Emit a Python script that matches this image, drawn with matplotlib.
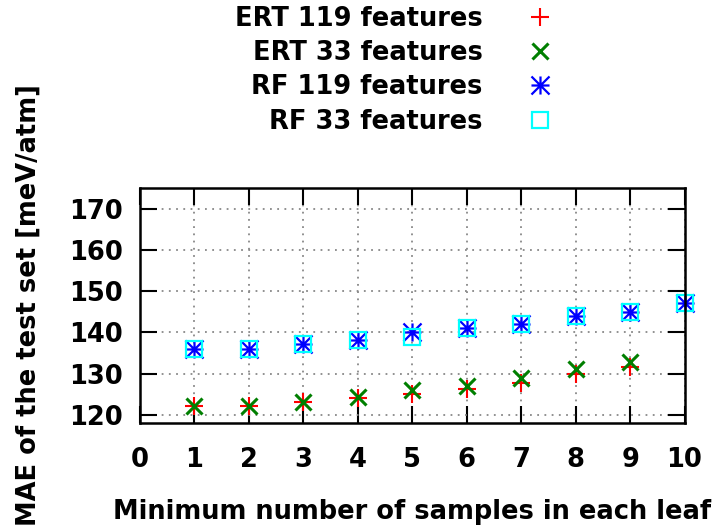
import numpy as np
import matplotlib
matplotlib.use('Agg')
import matplotlib.pyplot as plt
from matplotlib.path import Path

# minimum samples per leaf
leaf_ert = [1, 2, 3, 4, 5, 6, 7, 8, 9]
leaf_rf = [1, 2, 3, 4, 5, 6, 7, 8, 9, 10]

# MAE of the test set [meV/atm]
ert_119 = [122, 122, 123, 124, 125, 126.2, 127.8, 130, 131.5]
ert_33 = [122, 122, 123, 124.3, 126, 126.9, 128.9, 131.1, 132.9]
rf_119 = [136, 136, 137.1, 138.2, 140.1, 141, 142, 144, 145, 147]
rf_33 = [136, 136, 137.1, 138.2, 138.9, 141.1, 142, 144, 145, 147]

labels = ['ERT 119 features', 'ERT 33 features', 'RF 119 features', 'RF 33 features']
xticks = list(range(0, 11))
yticks = [120, 130, 140, 150, 160, 170]

# gnuplot style star: a plus and a cross together
star = Path([(-1, 0), (1, 0), (0, -1), (0, 1), (-1, -1), (1, 1), (-1, 1), (1, -1)],
            [Path.MOVETO, Path.LINETO] * 4)

FS = 18.5
plt.rcParams['font.family'] = 'DejaVu Sans'
plt.rcParams['font.weight'] = 'bold'
plt.rcParams['axes.labelweight'] = 'bold'
fig = plt.figure(figsize=(7.12, 5.29), dpi=100)
ax = fig.add_axes([0.1966, 0.2004, 0.7648, 0.4442])

h1, = ax.plot(leaf_ert, ert_119, ls='none', marker='+', ms=13, mew=1.5,
              color='#ff0000', clip_on=False)
h2, = ax.plot(leaf_ert, ert_33, ls='none', marker='x', ms=12, mew=2.2,
              color='#007f00', clip_on=False)
h3, = ax.plot(leaf_rf, rf_119, ls='none', marker=star, ms=13, mew=1.6,
              color='#0000ff', clip_on=False)
h4, = ax.plot(leaf_rf, rf_33, ls='none', marker='s', ms=12, mew=1.6,
              mfc='none', mec='#00ffff', clip_on=False)

ax.set_xlim(0, 10)
ax.set_ylim(118, 175)
ax.set_xticks(xticks)
ax.set_yticks(yticks)
ax.grid(True, color='#888888', linestyle=(0, (1, 3)), linewidth=1.3)
ax.set_axisbelow(True)

ax.tick_params(direction='in', top=True, right=True, length=12, width=1.5,
               labelsize=FS)
ax.tick_params(axis='x', pad=17)
ax.tick_params(axis='y', pad=12)
for sp in ax.spines.values():
    sp.set_linewidth(1.8)

ax.set_xlabel('Minimum number of samples in each leaf', fontsize=FS, labelpad=19)
ax.set_ylabel('MAE of the test set [meV/atm]', fontsize=FS, labelpad=20)

# right aligned key, one entry per row
handles = [h1, h2, h3, h4]
rows_y = [0.964, 0.900, 0.8355, 0.7694]
for hnd, lab, yy in zip(handles, labels, rows_y):
    fig.legend([hnd], [lab], loc='center right', bbox_to_anchor=(0.776, yy),
               markerfirst=False, frameon=False, fontsize=FS, handlelength=1.0,
               handletextpad=1.72, borderpad=0, borderaxespad=0)

fig.savefig('out.png', dpi=100)
plt.close(fig)
